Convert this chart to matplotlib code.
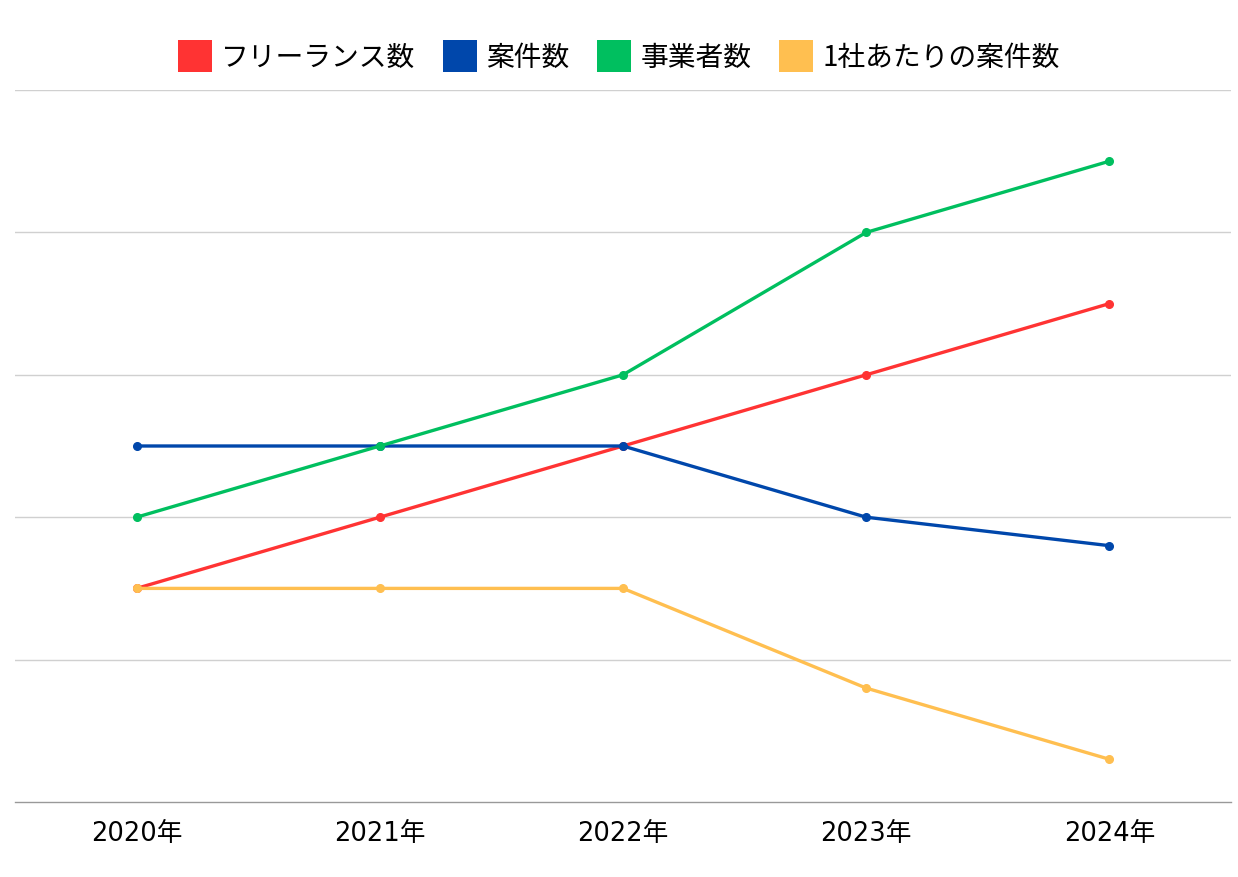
import matplotlib
matplotlib.use("Agg")
import matplotlib.pyplot as plt
from matplotlib.patches import Patch

plt.rcParams['font.family'] = ['Noto Sans CJK JP', 'DejaVu Sans']

years = ['2020年', '2021年', '2022年', '2023年', '2024年']
freelancers = [1.5, 2.0, 2.5, 3.0, 3.5]
projects = [2.5, 2.5, 2.5, 2.0, 1.8]
companies = [2.0, 2.5, 3.0, 4.0, 4.5]
per_company = [1.5, 1.5, 1.5, 0.8, 0.3]

labels = ['フリーランス数', '案件数', '事業者数', '1社あたりの案件数']
colors = ['#FF3333', '#0047AB', '#00BF5F', '#FFBF50']

fig = plt.figure(figsize=(12.38, 8.78), dpi=100)
ax = fig.add_axes([15/1238, 75/878, 1216/1238, 712/878])

x = list(range(len(years)))
for vals, c in zip([freelancers, projects, companies, per_company], colors):
    ax.plot(x, vals, color=c, lw=2.4, marker='o', ms=5.5, solid_capstyle='round', zorder=3)

ax.set_xlim(-0.5, 4.5)
ax.set_ylim(0, 5)
ax.set_yticks([1, 2, 3, 4, 5])
ax.yaxis.grid(True, color='#d0d0d0', lw=1)
ax.tick_params(axis='y', left=False, labelleft=False)
ax.set_xticks(x)
ax.set_xticklabels(years, fontsize=18.5, family=['DejaVu Sans', 'Noto Sans CJK JP'])
ax.tick_params(axis='x', length=0, pad=13)
for s in ['top', 'right', 'left']:
    ax.spines[s].set_visible(False)
ax.spines['bottom'].set_color('#999999')
ax.spines['bottom'].set_linewidth(1)
ax.set_axisbelow(True)

handles = [Patch(facecolor=c, edgecolor='none') for c in colors]
fig.legend(handles, labels, loc='center', bbox_to_anchor=(0.5, 1 - 57/878), ncol=4,
           frameon=False, fontsize=20, handlelength=1.2, handleheight=1.45,
           handletextpad=0.35, columnspacing=1.0)

fig.savefig('out.png', dpi=100)
